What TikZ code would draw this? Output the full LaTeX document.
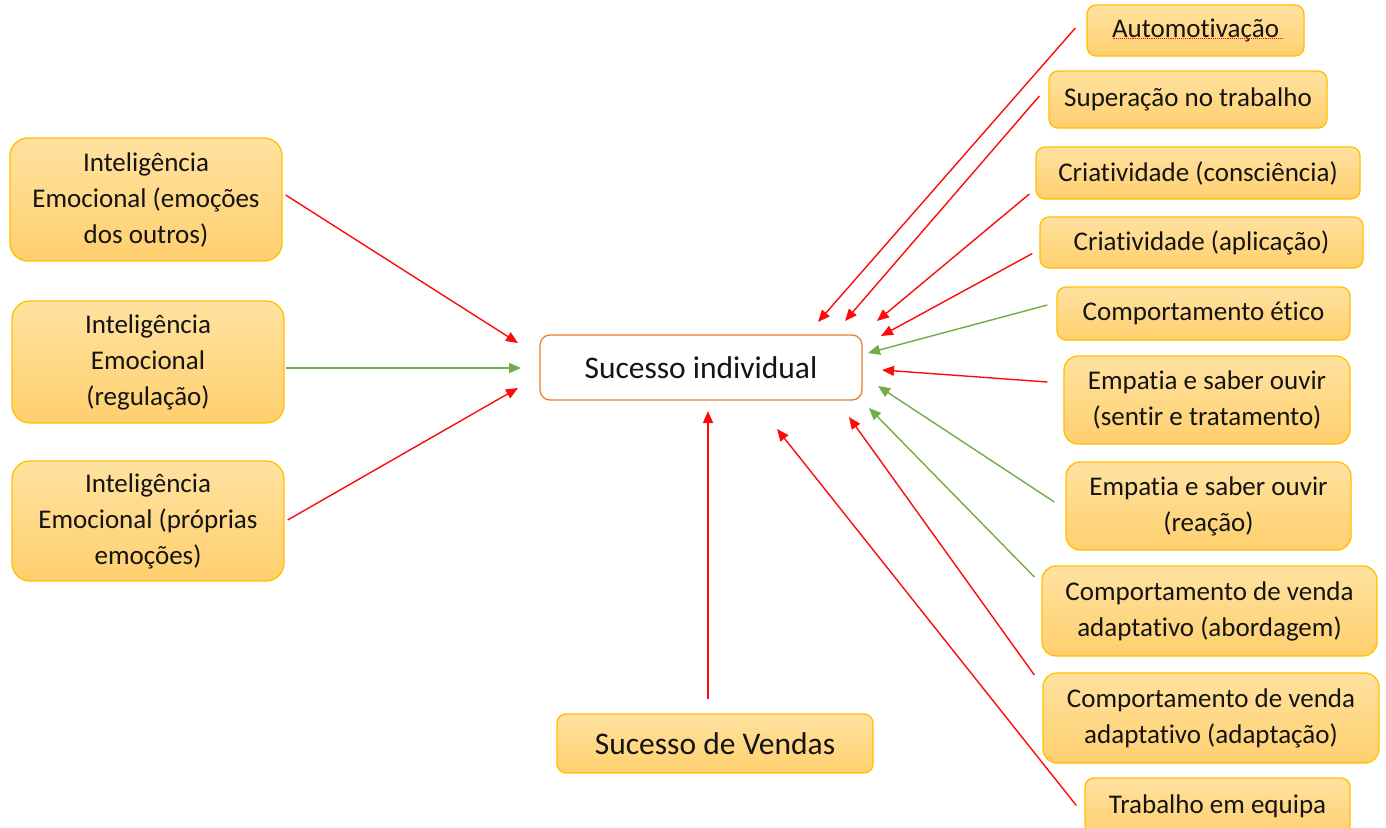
\documentclass[tikz,border=0pt]{standalone}
\usepackage{fontspec}
\setmainfont{Carlito}[Ligatures={NoCommon,NoContextual}]
\usetikzlibrary{arrows.meta}

\definecolor{boxtop}{RGB}{255,226,160}
\definecolor{boxbot}{RGB}{255,207,110}
\definecolor{boxline}{RGB}{255,192,0}
\definecolor{hubline}{RGB}{237,125,49}
\definecolor{redln}{RGB}{255,10,10}
\definecolor{greenln}{RGB}{112,173,71}
\definecolor{ink}{RGB}{20,20,20}

\tikzset{
  factor/.style={draw=boxline, line width=1.3pt, top color=boxtop, bottom color=boxbot,
    rounded corners=#1, inner sep=0pt, align=center, text=ink,
    font=\fontsize{27}{36}\selectfont},
  factor/.default=9pt,
  hub/.style={draw=hubline, line width=1.3pt, fill=white, rounded corners=10pt,
    inner sep=0pt, text=ink, font=\fontsize{31.5}{38}\selectfont},
  bigfactor/.style={factor=9pt, font=\fontsize{31.5}{38}\selectfont},
  negarrow/.style={draw=redln, line width=1.4pt, -{Triangle[length=12pt,width=10pt]}},
  posarrow/.style={draw=greenln, line width=1.4pt, -{Triangle[length=12pt,width=10pt]}},
  spell/.style={draw=redln, line width=0.9pt, densely dotted}
}

\begin{document}
\begin{tikzpicture}[x=1pt, y=-1pt]
\useasboundingbox (0,0) rectangle (1386,827);

% central outcome and its antecedents
\node[hub, minimum width=322pt, minimum height=65pt] (C) at (701,367.5) {Sucesso individual};
\node[bigfactor, minimum width=316pt, minimum height=59pt] (V) at (715,743.5) {Sucesso de Vendas};

% emotional intelligence dimensions (left column)
\node[factor=18pt, minimum width=272pt, minimum height=123pt] (L1) at (146,199.5)
  {Inteligência\\Emocional (emoções\\dos outros)};
\node[factor=18pt, minimum width=272pt, minimum height=122pt] (L2) at (148,362)
  {Inteligência\\Emocional\\(regulação)};
\node[factor=18pt, minimum width=272pt, minimum height=120pt] (L3) at (148,521)
  {Inteligência\\Emocional (próprias\\emoções)};

% individual competences (right column)
\node[factor, minimum width=217pt, minimum height=51pt] (R1) at (1195.5,30.5) {Automotivação};
\node[factor, minimum width=278pt, minimum height=57pt] (R2) at (1188,99.5) {Superação no trabalho};
\node[factor, minimum width=324pt, minimum height=52pt] (R3) at (1198,173) {Criatividade (consciência)};
\node[factor, minimum width=323pt, minimum height=51pt] (R4) at (1201.5,242.5) {Criatividade (aplicação)};
\node[factor, minimum width=293pt, minimum height=53pt] (R5) at (1203.5,313.5) {Comportamento ético};
\node[factor=14pt, minimum width=286pt, minimum height=88pt] (R6) at (1207,400)
  {Empatia e saber ouvir\\(sentir e tratamento)};
\node[factor=14pt, minimum width=285pt, minimum height=88pt] (R7) at (1208.5,506)
  {Empatia e saber ouvir\\(reação)};
\node[factor=14pt, minimum width=335pt, minimum height=90pt] (R8) at (1209.5,611)
  {Comportamento de venda\\adaptativo (abordagem)};
\node[factor=14pt, minimum width=336pt, minimum height=90pt] (R9) at (1211,718)
  {Comportamento de venda\\adaptativo (adaptação)};
\node[factor, minimum width=265pt, minimum height=56pt] (R10) at (1217.5,806) {Trabalho em equipa};

% spell-check squiggle under the first label
\draw[spell] ([shift={(-83,7.5)}]R1.center) -- ([shift={(88,7.5)}]R1.center);

% arrow tips around the central box
\coordinate (tL1) at (518,343);
\coordinate (tL2) at (521,368);
\coordinate (tL3) at (518,388);
\coordinate (tV)  at (708,411);
\coordinate (tR1) at (818,322);
\coordinate (tR2) at (845,321);
\coordinate (tR3) at (877,321);
\coordinate (tR4) at (881,336);
\coordinate (tR5) at (868,353);
\coordinate (tR6) at (882,370);
\coordinate (tR7) at (878,386);
\coordinate (tR8) at (869,408);
\coordinate (tR9) at (849,417);
\coordinate (tR10) at (777,429);

% connectors
\draw[negarrow] ([shift={(3,-4.5)}]L1.east) -- (tL1);
\draw[posarrow] ([shift={(1,6)}]L2.east) -- (tL2);
\draw[negarrow] ([shift={(3,-1)}]L3.east) -- (tL3);
\draw[negarrow] ([shift={(-7,-14)}]V.north) -- (tV);

\draw[negarrow] ([shift={(-11,-2.5)}]R1.west) -- (tR1);
\draw[negarrow] ([shift={(-9,-3.5)}]R2.west) -- (tR2);
\draw[negarrow] ([shift={(-6,21)}]R3.west) -- (tR3);
\draw[negarrow] ([shift={(-7,11)}]R4.west) -- (tR4);
\draw[posarrow] ([shift={(-9,-8.5)}]R5.west) -- (tR5);
\draw[negarrow] ([shift={(-16,-18)}]R6.west) -- (tR6);
\draw[posarrow] ([shift={(-11,-4)}]R7.west) -- (tR7);
\draw[posarrow] ([shift={(-7,-34)}]R8.west) -- (tR8);
\draw[negarrow] ([shift={(-8,-43)}]R9.west) -- (tR9);
\draw[negarrow] ([shift={(-8,-0.5)}]R10.west) -- (tR10);
\end{tikzpicture}
\end{document}
